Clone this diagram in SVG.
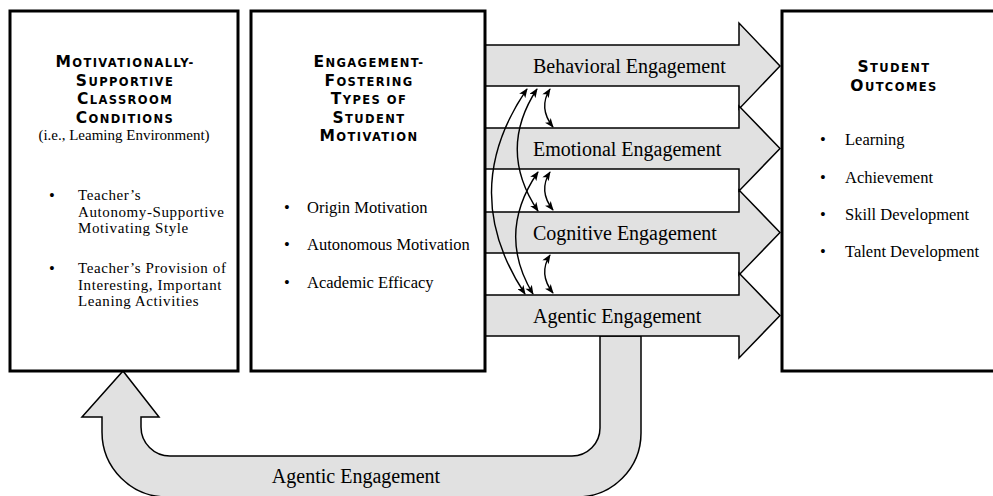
<svg xmlns="http://www.w3.org/2000/svg" width="993" height="496" viewBox="0 0 993 496">
<style>
.box{fill:#fff;stroke:#000;stroke-width:3}
.arr{fill:#e1e1e1;stroke:#000;stroke-width:1.5;stroke-linejoin:miter}
.hd{font-family:"DejaVu Sans","Liberation Sans",sans-serif;font-weight:bold;font-size:11.5px;letter-spacing:1.4px;text-anchor:middle;fill:#000}
.c{font-size:15.5px}
.t{font-family:"Liberation Serif","Times New Roman",serif;font-size:16.5px;fill:#000}
.t2{font-family:"Liberation Serif","Times New Roman",serif;font-size:15px;letter-spacing:0.6px;fill:#000}
.b{text-anchor:middle}
.sm{font-size:15px}
.lbl{font-family:"Liberation Serif","Times New Roman",serif;font-size:20px;fill:#000}
.link{fill:none;stroke:#000;stroke-width:1.4;marker-start:url(#ah);marker-end:url(#ah)}
</style>
<defs>
<marker id="ah" viewBox="0 0 10 8" refX="9" refY="4" markerWidth="10" markerHeight="7.5" markerUnits="userSpaceOnUse" orient="auto-start-reverse">
<path d="M0,0 L10,4 L0,8 L2.5,4 z" fill="#000"/>
</marker>
</defs>
<rect width="993" height="496" fill="#fff"/>

<g id="agentic-return">
<path class="arr" d="M641,336 L641,433 A64,64 0 0 1 577,497 L167,497 A65,65 0 0 1 102,432 L102,417 L82,417 L123,371 L159,417 L141,417 L141,427 A29,29 0 0 0 170,456 L572,456 A28,28 0 0 0 600,428 L600,336 Z"/>
<text class="lbl" x="356" y="483" text-anchor="middle">Agentic Engagement</text>
</g>

<g id="behavioral">
<path class="arr" d="M485,45 L739,45 L739,23 L780,66 L739,109 L739,86 L485,86 Z"/>
<text class="lbl" x="533" y="73">Behavioral Engagement</text>
</g>
<g id="emotional">
<path class="arr" d="M485,128 L739,128 L739,106 L780,148.5 L739,191 L739,169 L485,169 Z"/>
<text class="lbl" x="533" y="155.5">Emotional Engagement</text>
</g>
<g id="cognitive">
<path class="arr" d="M485,212 L739,212 L739,190 L780,232.5 L739,275 L739,253 L485,253 Z"/>
<text class="lbl" x="533" y="239.5">Cognitive Engagement</text>
</g>
<g id="agentic">
<path class="arr" d="M485,295 L739,295 L739,273 L780,315.5 L739,358 L739,336 L485,336 Z"/>
<text class="lbl" x="533" y="322.5">Agentic Engagement</text>
</g>

<g id="connectors">
<path class="link" d="M550,89 Q538,108 553,127"/>
<path class="link" d="M550,172 Q538,191 553,210"/>
<path class="link" d="M550,255 Q538,274 553,293"/>
<path class="link" d="M537,89 Q497,150 538,211"/>
<path class="link" d="M538,172 Q496,233 533,294"/>
<path class="link" d="M527,89 Q457,191 525,294"/>
</g>

<g id="classroom-conditions">
<rect class="box" x="10" y="11" width="228" height="360"/>
<text class="hd" x="125" y="67"><tspan class="c">M</tspan>OTIVATIONALLY-</text>
<text class="hd" x="125" y="85.5"><tspan class="c">S</tspan>UPPORTIVE</text>
<text class="hd" x="125" y="104"><tspan class="c">C</tspan>LASSROOM</text>
<text class="hd" x="125" y="122.5"><tspan class="c">C</tspan>ONDITIONS</text>
<text class="t sm b" x="124" y="140">(i.e., Leaming Environment)</text>
<text class="t b" x="52" y="201">•</text>
<text class="t2" x="78" y="200">Teacher’s</text>
<text class="t2" x="78" y="216.5">Autonomy-Supportive</text>
<text class="t2" x="78" y="233">Motivating Style</text>
<text class="t b" x="52" y="274">•</text>
<text class="t2" x="78" y="273">Teacher’s Provision of</text>
<text class="t2" x="78" y="289.5">Interesting, Important</text>
<text class="t2" x="78" y="306">Leaning Activities</text>
</g>

<g id="student-motivation">
<rect class="box" x="251" y="11" width="234" height="360"/>
<text class="hd" x="369" y="67"><tspan class="c">E</tspan>NGAGEMENT-</text>
<text class="hd" x="369" y="85.5"><tspan class="c">F</tspan>OSTERING</text>
<text class="hd" x="369" y="104"><tspan class="c">T</tspan>YPES OF</text>
<text class="hd" x="369" y="122.5"><tspan class="c">S</tspan>TUDENT</text>
<text class="hd" x="369" y="141"><tspan class="c">M</tspan>OTIVATION</text>
<text class="t b" x="287" y="213">•</text>
<text class="t" x="307" y="213">Origin Motivation</text>
<text class="t b" x="287" y="250">•</text>
<text class="t" x="307" y="250">Autonomous Motivation</text>
<text class="t b" x="287" y="288">•</text>
<text class="t" x="307" y="288">Academic Efficacy</text>
</g>

<g id="student-outcomes">
<rect class="box" x="782" y="11" width="230" height="360"/>
<text class="hd" x="894" y="72"><tspan class="c">S</tspan>TUDENT</text>
<text class="hd" x="894" y="90.5"><tspan class="c">O</tspan>UTCOMES</text>
<text class="t b" x="823" y="145">•</text>
<text class="t" x="845" y="145">Learning</text>
<text class="t b" x="823" y="183">•</text>
<text class="t" x="845" y="183">Achievement</text>
<text class="t b" x="823" y="220">•</text>
<text class="t" x="845" y="220">Skill Development</text>
<text class="t b" x="823" y="257">•</text>
<text class="t" x="845" y="257">Talent Development</text>
</g>
</svg>
